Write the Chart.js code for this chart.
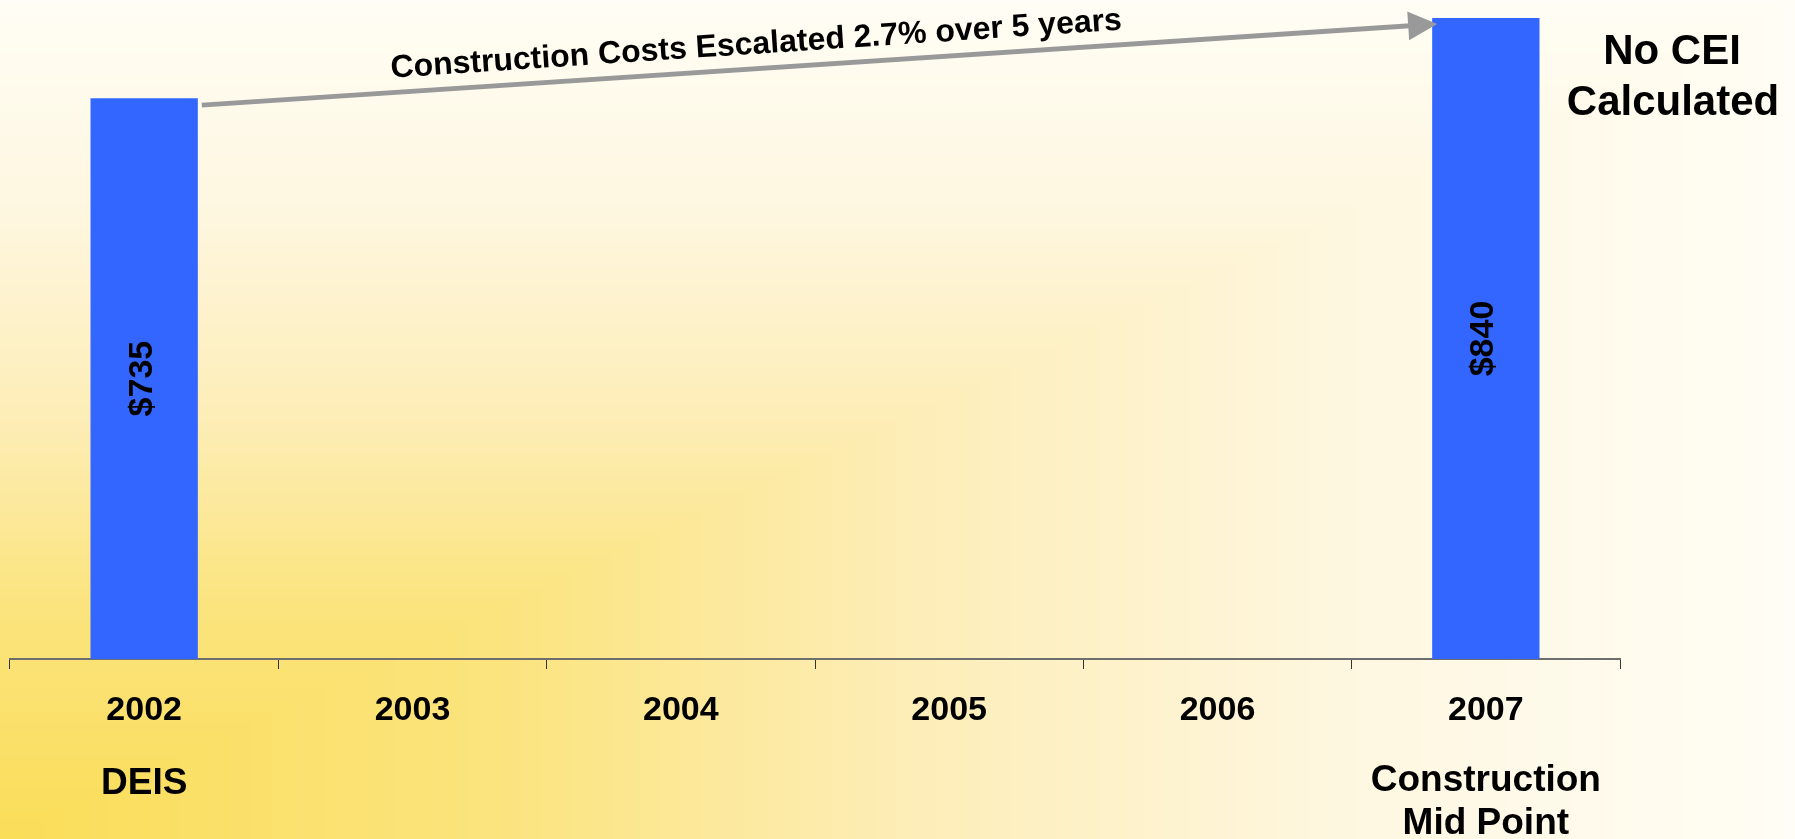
<!DOCTYPE html>
<html>
<head>
<meta charset="utf-8">
<script src="https://cdn.jsdelivr.net/npm/chart.js@4.4.1/dist/chart.umd.min.js"></script>
<style>
  html, body { margin: 0; padding: 0; background: #ffffff; }
  #wrap { width: 1795px; height: 839px; position: relative; }
</style>
</head>
<body>
<div id="wrap"><canvas id="c"></canvas></div>
<script>
// ---- Data ----
const categories = ['2002', '2003', '2004', '2005', '2006', '2007'];
const costValues = [735, null, null, null, null, 840];
const valueLabels = ['$735', '', '', '', '', '$840'];
const milestoneLabels = [['DEIS'], [], [], [], [], ['Construction', 'Mid Point']];
const arrowText = 'Construction Costs Escalated 2.7% over 5 years';
const noteLines = ['No CEI', 'Calculated'];

const FONT = '"Liberation Sans", Arial, Helvetica, sans-serif';

// ---- Background (corner gradient) ----
let bgCanvas = null;
function makeBackground(W, H) {
  const c = document.createElement('canvas');
  c.width = W; c.height = H;
  const g = c.getContext('2d');
  const img = g.createImageData(W, H);
  const d = img.data;
  const stops = [
    [0.00, 250, 221, 88],
    [0.28, 251, 228, 126],
    [0.50, 253, 237, 182],
    [0.75, 254, 247, 224],
    [1.00, 255, 253, 245]
  ];
  const N = 1000;
  const lut = [];
  for (let i = 0; i <= N; i++) {
    const t = i / N;
    let k = 0;
    while (k < stops.length - 2 && t > stops[k + 1][0]) k++;
    const a = stops[k], b = stops[k + 1];
    const f = (t - a[0]) / (b[0] - a[0]);
    lut.push([a[1] + (b[1] - a[1]) * f, a[2] + (b[2] - a[2]) * f, a[3] + (b[3] - a[3]) * f]);
  }
  for (let y = 0; y < H; y++) {
    const ty = (H - y) / H;
    for (let x = 0; x < W; x++) {
      let t = Math.max(x / W, ty);
      if (t > 1) t = 1;
      const col = lut[Math.round(t * N)];
      const p = (y * W + x) * 4;
      d[p] = col[0]; d[p + 1] = col[1]; d[p + 2] = col[2]; d[p + 3] = 255;
    }
  }
  g.putImageData(img, 0, 0);
  return c;
}

const backgroundPlugin = {
  id: 'bg',
  beforeDraw(chart) {
    const W = chart.width, H = chart.height;
    if (!bgCanvas || bgCanvas.width !== W || bgCanvas.height !== H) bgCanvas = makeBackground(W, H);
    chart.ctx.save();
    chart.ctx.drawImage(bgCanvas, 0, 0);
    chart.ctx.restore();
  }
};

const annotationPlugin = {
  id: 'annots',
  afterDatasetsDraw(chart) {
    const ctx = chart.ctx;
    const meta = chart.getDatasetMeta(0);
    const xs = chart.scales.x;
    const area = chart.chartArea;
    ctx.save();
    ctx.fillStyle = '#000';

    // value labels inside bars, rotated
    ctx.font = 'bold 34px ' + FONT;
    ctx.textAlign = 'center';
    ctx.textBaseline = 'middle';
    meta.data.forEach((bar, i) => {
      if (costValues[i] == null || !valueLabels[i]) return;
      const cx = bar.x, cy = (bar.y + bar.base) / 2;
      ctx.save();
      ctx.translate(cx - 2, cy);
      ctx.rotate(-Math.PI / 2);
      ctx.fillText(valueLabels[i], 0, 0);
      ctx.restore();
    });

    // arrow between first and last bar
    const b0 = meta.data[0], b1 = meta.data[costValues.length - 1];
    const sx = b0.x + b0.width / 2 + 4, sy = b0.y + 7;
    const ex = b1.x - b1.width / 2 + 5, ey = b1.y + 6;
    const dx = ex - sx, dy = ey - sy;
    const len = Math.hypot(dx, dy);
    const ux = dx / len, uy = dy / len;
    const headLen = 29, headHalf = 14.5;
    const bx = ex - ux * headLen, by = ey - uy * headLen;
    ctx.strokeStyle = '#999999';
    ctx.fillStyle = '#999999';
    ctx.lineWidth = 5;
    ctx.lineCap = 'butt';
    ctx.beginPath();
    ctx.moveTo(sx, sy);
    ctx.lineTo(bx + ux * 2, by + uy * 2);
    ctx.stroke();
    ctx.beginPath();
    ctx.moveTo(ex, ey);
    ctx.lineTo(bx - uy * headHalf, by + ux * headHalf);
    ctx.lineTo(bx + uy * headHalf, by - ux * headHalf);
    ctx.closePath();
    ctx.fill();

    // arrow text
    const px = sx + dx * 0.45, py = sy + dy * 0.45;
    ctx.save();
    ctx.translate(px, py);
    ctx.rotate(Math.atan2(dy, dx));
    ctx.fillStyle = '#000';
    ctx.font = 'bold 32px ' + FONT;
    ctx.textAlign = 'center';
    ctx.textBaseline = 'alphabetic';
    ctx.fillText(arrowText, 0, -15);
    ctx.restore();

    // note at top right
    ctx.fillStyle = '#000';
    ctx.font = 'bold 42px ' + FONT;
    ctx.textAlign = 'center';
    ctx.textBaseline = 'middle';
    ctx.fillText(noteLines[0], 1672, 52);
    ctx.fillText(noteLines[1], 1673, 103);

    // milestone labels under the year ticks
    ctx.font = 'bold 37px ' + FONT;
    milestoneLabels.forEach((lines, i) => {
      const x = xs.getPixelForValue(i);
      const off = lines.length === 1 ? 125 : 122;
      lines.forEach((t, j) => {
        ctx.fillText(t, x, area.bottom + off + j * 43);
      });
    });
    ctx.restore();
  }
};

new Chart(document.getElementById('c'), {
  type: 'bar',
  data: {
    labels: categories,
    datasets: [{
      data: costValues,
      backgroundColor: '#3366ff',
      borderWidth: 0,
      barPercentage: 0.4,
      categoryPercentage: 1.0
    }]
  },
  options: {
    responsive: true,
    maintainAspectRatio: false,
    devicePixelRatio: 1,
    animation: false,
    layout: { padding: { left: 10, right: 175, top: 18, bottom: 0 } },
    plugins: { legend: { display: false }, tooltip: { enabled: false } },
    scales: {
      x: {
        afterFit(s) { s.height = 180; },
        grid: {
          offset: true,
          drawOnChartArea: false,
          drawTicks: true,
          tickLength: 10,
          color: '#333333',
          lineWidth: 1
        },
        border: { display: true, color: '#6e6e6e', width: 2 },
        ticks: {
          color: '#000',
          padding: 21,
          font: { family: FONT, size: 34, weight: 'bold' }
        }
      },
      y: {
        display: false,
        min: 0,
        max: 840
      }
    }
  },
  plugins: [backgroundPlugin, annotationPlugin]
});
</script>
</body>
</html>
